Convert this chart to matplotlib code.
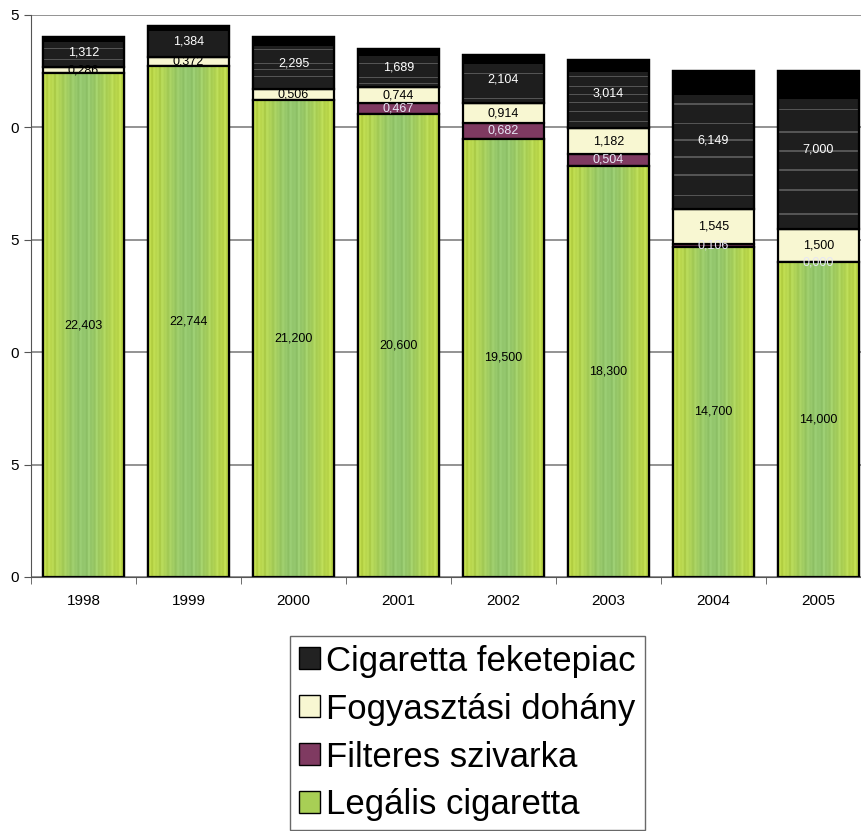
import matplotlib.pyplot as plt
import numpy as np
from matplotlib.patches import Patch

plt.rcParams['font.family'] = ['Liberation Sans', 'DejaVu Sans']

# ======adatok======
years = ['1998', '1999', '2000', '2001', '2002', '2003', '2004', '2005']
legalis = [22.403, 22.744, 21.200, 20.600, 19.500, 18.300, 14.700, 14.000]
filteres = [0.0, 0.0, 0.0, 0.467, 0.682, 0.504, 0.106, 0.000]
dohany = [0.286, 0.372, 0.506, 0.744, 0.914, 1.182, 1.545, 1.500]
feketepiac = [1.312, 1.384, 2.295, 1.689, 2.104, 3.014, 6.149, 7.000]
show_filteres = [False, False, False, True, True, True, True, True]
ytick_vals = [0, 5, 10, 15, 20, 25]
ytick_text = ['0', '5', '0', '5', '0', '5']

fig = plt.figure(figsize=(8.62, 8.31), dpi=100)
ax = fig.add_axes([31 / 862, 1 - 577 / 831, 840 / 862, 562 / 831])

x = np.arange(len(years))
w = 0.77

# textúrák
cols = np.linspace(0, 1, 120)
green_mix = 0.5 + 0.5 * np.cos(2 * np.pi * (cols - 0.5))
stripe = 0.5 + 0.5 * np.sin(cols * 97.0) * np.sin(cols * 31.0)
c_edge = np.array([0.74, 0.85, 0.29])
c_mid = np.array([0.58, 0.78, 0.43])
g = (1 - green_mix)[:, None] * c_edge + green_mix[:, None] * c_mid
g = g + (stripe[:, None] - 0.5) * 0.08
green_tex = np.clip(g[None, :, :], 0, 1)

rows = np.full(100, 0.12)
rows[:18] = 0.0
for r in [24, 38, 50, 62, 75, 90]:
    rows[r] = 0.33
black_tex = np.repeat(rows[:, None], 3, axis=1)[:, None, :]

bottom = np.zeros(len(years))
series = [
    (legalis, '#a8cf55', 'green'),
    (filteres, '#7f3a61', None),
    (dohany, '#f8f7d2', None),
    (feketepiac, '#1c1c1c', 'black'),
]
for vals, color, tex in series:
    vals = np.array(vals)
    bars = ax.bar(x, vals, w, bottom=bottom, color=color, edgecolor='black',
                  linewidth=1.6, zorder=2)
    if tex is not None:
        for b, v, b0 in zip(bars, vals, bottom):
            img = green_tex if tex == 'green' else black_tex
            im = ax.imshow(img, extent=[b.get_x(), b.get_x() + w, b0, b0 + v],
                           aspect='auto', origin='upper', zorder=2.5,
                           interpolation='nearest')
            im.set_clip_path(b)
        ax.bar(x, vals, w, bottom=bottom, fill=False, edgecolor='black',
               linewidth=1.6, zorder=3)
    bottom = bottom + vals

# ======feliratok======
fmt = lambda v: '{:.3f}'.format(v).replace('.', ',')
for i in range(len(years)):
    ax.text(x[i], legalis[i] / 2, fmt(legalis[i]),
            ha='center', va='center', fontsize=9, color='black', zorder=5)
    base = legalis[i]
    if show_filteres[i]:
        ax.text(x[i], base + filteres[i] / 2, fmt(filteres[i]),
                ha='center', va='center', fontsize=9, color='#e6e6f5', zorder=5)
    base += filteres[i]
    ax.text(x[i], base + dohany[i] / 2, fmt(dohany[i]),
            ha='center', va='center', fontsize=9, color='black', zorder=5)
    base += dohany[i]
    ax.text(x[i], base + feketepiac[i] / 2, fmt(feketepiac[i]),
            ha='center', va='center', fontsize=9, color='white', zorder=5)

ax.set_xlim(-0.5, len(years) - 0.5)
ax.set_ylim(0, 25)
ax.set_yticks(ytick_vals)
ax.set_yticklabels(ytick_text, fontsize=11)
ax.set_xticks(x)
ax.set_xticklabels(years, fontsize=11)
ax.set_xticks(np.arange(len(years) + 1) - 0.5, minor=True)
ax.tick_params(axis='x', which='major', length=0, pad=12)
ax.tick_params(axis='x', which='minor', length=5, color='#555555', direction='out')
ax.tick_params(axis='y', length=5, color='#555555', direction='out')
ax.yaxis.grid(True, color='#808080', linewidth=1.2, zorder=0)
ax.set_axisbelow(True)
for s in ['top', 'right']:
    ax.spines[s].set_visible(False)
ax.spines['left'].set_color('#555555')
ax.spines['bottom'].set_color('#555555')

handles = [
    Patch(facecolor='#222222', edgecolor='black', label='Cigaretta feketepiac'),
    Patch(facecolor='#f8f7d2', edgecolor='black', label='Fogyasztási dohány'),
    Patch(facecolor='#7f3a61', edgecolor='black', label='Filteres szivarka'),
    Patch(facecolor='#a8cf55', edgecolor='black', label='Legális cigaretta'),
]
leg = fig.legend(handles=handles, loc='upper left',
                 bbox_to_anchor=(290 / 862, 1 - 636 / 831), fontsize=25,
                 handlelength=0.6, handleheight=0.6, handletextpad=0.2,
                 labelspacing=0.43, borderpad=0.25, borderaxespad=0,
                 frameon=True, fancybox=False)
leg.get_frame().set_edgecolor('#444444')
leg.get_frame().set_linewidth(1.0)

plt.savefig('out.png', dpi=100)
